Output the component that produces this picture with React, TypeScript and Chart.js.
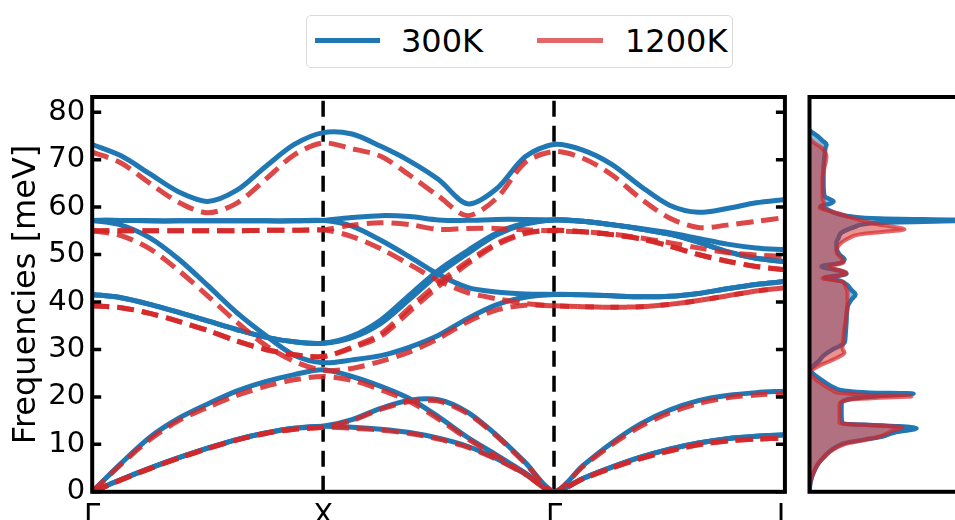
import React, { useEffect, useRef } from "react";
import { Chart, registerables } from "chart.js";

Chart.register(...registerables);
Chart.defaults.font.family = "'DejaVu Sans', sans-serif";

// ---- path & axes ----
const kPath = [0, 0.125, 0.25, 0.375, 0.5, 0.625, 0.75, 0.875, 1, 1.125, 1.25, 1.375, 1.5, 1.625, 1.75, 1.875, 2, 2.125, 2.25, 2.375, 2.5, 2.625, 2.75, 2.875, 3];
const kTickPos = [0, 1, 2, 3];
const kTickLabels = ["Γ", "X", "Γ", "L"];
const symLines = [1, 2];
const freqTicks = [0, 10, 20, 30, 40, 50, 60, 70, 80];
const freqMax = 83.2;

// ---- 300K bands (meV) ----
const ta300a = [0, 2.6, 5, 7.2, 9.2, 11, 12.4, 13.4, 13.8, 13.6, 13.2, 12.5, 11.3, 9.6, 7, 3.8, 0, 2.8, 5.2, 7.3, 9, 10.3, 11.2, 11.7, 12];
const ta300b = [0, 2.6, 5, 7.2, 9.2, 11, 12.4, 13.4, 13.8, 15.2, 17.6, 19.3, 19.4, 16.8, 12, 6.2, 0, 2.8, 5.2, 7.3, 9, 10.3, 11.2, 11.7, 12];
const la300 = [0, 6, 11.5, 15.5, 18.5, 21.2, 23.2, 24.7, 25.7, 24.3, 22.2, 19.6, 15.8, 11.5, 7.8, 4, 0, 5.5, 10.3, 14.3, 17.2, 19.2, 20.3, 20.9, 21.2];
const to300a = [41.6, 40.9, 39.5, 37.8, 36, 34.2, 32.6, 31.6, 31.3, 32.8, 36.2, 41.5, 46.7, 50.8, 54.5, 56.6, 57.3, 57, 56.3, 55.4, 54.3, 52.6, 50.6, 49.2, 48.5];
const to300b = [41.6, 40.9, 39.5, 37.8, 36, 34.2, 32.6, 31.6, 31.3, 32.5, 35.5, 40.6, 45.9, 50.2, 54.1, 56.4, 57.3, 57, 56.3, 55.4, 54.3, 52.6, 50.6, 49.2, 48.5];
const op300a = [57.2, 56.2, 53.5, 49, 43.5, 37.8, 33, 28.8, 27.2, 27.8, 28.7, 30.5, 33, 36.5, 39.4, 41, 41.6, 41.5, 41.3, 41.1, 41.2, 41.8, 42.8, 43.7, 44.3];
const op300b = [57.2, 57.2, 57.1, 57.1, 57.1, 57.1, 57.1, 57.1, 57.2, 56, 53, 49.5, 45.8, 43.1, 42.1, 41.7, 41.6, 41.5, 41.3, 41.1, 41.2, 41.8, 42.8, 43.7, 44.3];
const op300c = [57.2, 57.2, 57.1, 57.1, 57.1, 57.1, 57.1, 57.1, 57.2, 57.8, 58.2, 58, 57.3, 57.2, 57.4, 57.4, 57.3, 57, 56.3, 55.5, 54.6, 53.4, 52.2, 51.4, 51];
const top300 = [73.2, 70.8, 67, 63.2, 61.2, 63.5, 68.5, 73.2, 75.7, 75.4, 72.8, 69.7, 65.8, 60.7, 63.8, 70.6, 73.2, 72, 69, 64.4, 60.4, 58.9, 59.7, 60.9, 61.6];

// ---- 1200K bands (meV) ----
const ta1200a = [0, 2.5, 4.9, 7.1, 9.1, 10.9, 12.3, 13.2, 13.6, 13.4, 13, 12.3, 11.1, 9.4, 6.9, 3.7, 0, 2.7, 5, 7, 8.6, 9.9, 10.7, 11.1, 11.3];
const ta1200b = [0, 2.5, 4.9, 7.1, 9.1, 10.9, 12.3, 13.2, 13.6, 15, 17.4, 19, 19.1, 16.5, 11.8, 6, 0, 2.7, 5, 7, 8.6, 9.9, 10.7, 11.1, 11.3];
const la1200 = [0, 5.8, 11, 15, 17.8, 20.3, 22.2, 23.6, 24.3, 23.5, 21.5, 19, 15.3, 11.2, 7.5, 3.8, 0, 5.3, 9.9, 13.8, 16.6, 18.6, 19.8, 20.4, 20.7];
const to1200a = [39.2, 38.8, 37.6, 35.9, 34, 31.8, 30, 28.9, 28.5, 30.5, 33.3, 38.8, 44, 48.5, 52.3, 54.6, 55.1, 54.8, 54.2, 53.3, 51.8, 50, 48.6, 47.5, 46.8];
const to1200b = [39.2, 38.8, 37.6, 35.9, 34, 31.8, 30, 28.9, 28.5, 30.3, 32.8, 38, 43.3, 48, 52, 54.4, 55.1, 54.8, 54.2, 53.3, 51.8, 50, 48.6, 47.5, 46.8];
const op1200a = [55, 54, 51.2, 46.6, 41.3, 35.8, 30.9, 27.5, 25.6, 26, 27.5, 29.5, 32.3, 35.8, 38.3, 39.3, 39.2, 39, 38.9, 39, 39.5, 40.3, 41.3, 42.3, 43];
const op1200b = [55, 55, 55, 55, 55, 55, 55.1, 55.1, 55.2, 53.8, 51.2, 47.9, 44.5, 42, 40.7, 39.7, 39.2, 39, 38.9, 39, 39.5, 40.3, 41.3, 42.3, 43];
const op1200c = [55, 55, 55, 55, 55, 55, 55.1, 55.1, 55.2, 56.2, 56.7, 56.3, 55.3, 55.5, 55.5, 55.2, 55, 54.8, 54.3, 53.5, 52.5, 51.4, 50.4, 49.9, 49.6];
const top1200 = [71.6, 69.3, 65, 61, 58.8, 60.8, 65.8, 71, 73.5, 72.3, 70.7, 66.7, 62.3, 58.2, 61.8, 69.4, 71.7, 70.3, 66.8, 61.8, 57.7, 55.7, 56.2, 57, 57.8];

// ---- phonon DOS (arb. units) ----
const dosE300 = [0, 2, 4, 6, 7.5, 8.5, 9.5, 10.3, 11, 11.6, 12.5, 13.4, 13.8, 14.4, 16, 18.5, 19.0, 19.6, 20.3, 20.7, 20.9, 21.3, 21.9, 23, 24, 25, 25.7, 26.3, 26.8, 27.5, 28.5, 29.3, 30, 30.7, 31.4, 33, 36, 39, 40.5, 41.6, 42.5, 43.7, 44.5, 45.1, 45.6, 45.9, 46.6, 47.5, 48.2, 49, 50, 51.5, 52.5, 53.5, 54.6, 55.8, 56.7, 57.2, 57.6, 58.0, 58.8, 59.6, 60.2, 60.7, 61.2, 62.3, 65, 68, 70.7, 72.5, 73.2, 74, 75, 75.7, 76.2];
const dos300 = [0, 0.01, 0.04, 0.09, 0.15, 0.2, 0.27, 0.36, 0.55, 0.72, 0.85, 1.07, 0.9, 0.33, 0.32, 0.32, 0.33, 0.42, 0.75, 1.04, 0.6, 0.35, 0.25, 0.16, 0.09, 0.03, 0, 0.03, 0.05, 0.09, 0.13, 0.18, 0.23, 0.3, 0.35, 0.36, 0.37, 0.38, 0.42, 0.46, 0.42, 0.37, 0.3, 0.15, 0.3, 0.37, 0.3, 0.12, 0.3, 0.35, 0.3, 0.27, 0.27, 0.29, 0.32, 0.45, 0.7, 1.6, 0.7, 0.42, 0.25, 0.17, 0.11, 0.2, 0.24, 0.15, 0.14, 0.14, 0.15, 0.16, 0.17, 0.13, 0.08, 0.03, 0];
const dosE1200 = [0, 2, 4, 6, 7.5, 8.5, 9.5, 10.3, 11, 11.8, 12.8, 13.6, 13.9, 14.5, 16, 18.5, 19.0, 19.5, 19.8, 20.1, 20.4, 20.8, 21.5, 22.5, 23.5, 24.5, 25.1, 25.6, 26.0, 26.6, 27.4, 28.3, 29.3, 30.2, 33, 36, 39, 40.5, 42, 43.3, 44.3, 45.0, 45.5, 46.2, 47.0, 47.5, 48.3, 49, 50.5, 51.5, 52.5, 53.5, 54.2, 54.8, 55.3, 55.8, 56.5, 57.3, 58.0, 58.6, 59.2, 59.8, 60.5, 62, 66, 70.7, 72.5, 73.2, 74, 74.5];
const dos1200 = [0, 0.01, 0.04, 0.09, 0.16, 0.21, 0.29, 0.4, 0.58, 0.72, 0.82, 0.93, 0.75, 0.3, 0.3, 0.3, 0.33, 0.45, 0.7, 1.02, 0.6, 0.32, 0.22, 0.14, 0.07, 0.02, 0, 0.02, 0.05, 0.1, 0.19, 0.28, 0.35, 0.33, 0.34, 0.36, 0.38, 0.38, 0.38, 0.36, 0.33, 0.13, 0.3, 0.37, 0.25, 0.2, 0.34, 0.33, 0.27, 0.28, 0.32, 0.4, 0.49, 0.75, 0.95, 0.85, 0.65, 0.5, 0.38, 0.3, 0.2, 0.1, 0.15, 0.13, 0.13, 0.17, 0.12, 0.07, 0.02, 0];
const dosMax = 2.0;

const seriesNames = ["300K", "1200K"];
const BLUE = "#1f77b4";
const RED = "rgba(214,39,40,0.85)";
const RED_LEGEND = "rgba(214,39,40,0.7)";

const bands300 = [ta300a, ta300b, la300, to300a, to300b, op300a, op300b, op300c, top300];
const bands1200 = [ta1200a, ta1200b, la1200, to1200a, to1200b, op1200a, op1200b, op1200c, top1200];

const framePlugin = (ticks: boolean) => ({
  id: "frame" + (ticks ? "A" : "B"),
  afterDatasetsDraw(chart: any) {
    const { ctx, chartArea } = chart;
    ctx.save();
    ctx.strokeStyle = "#000";
    if (ticks) {
      const ys = chart.scales.y;
      ctx.lineWidth = 3.5;
      ctx.beginPath();
      freqTicks.forEach((v) => {
        const p = ys.getPixelForValue(v);
        ctx.moveTo(chartArea.left, p);
        ctx.lineTo(chartArea.left + 9, p);
        ctx.moveTo(chartArea.right, p);
        ctx.lineTo(chartArea.right - 9, p);
      });
      ctx.stroke();
    }
    ctx.lineWidth = 4;
    ctx.strokeRect(chartArea.left, chartArea.top, chartArea.right - chartArea.left, chartArea.bottom - chartArea.top);
    ctx.restore();
  },
});

export default function App() {
  const bandRef = useRef<HTMLCanvasElement>(null);
  const dosRef = useRef<HTMLCanvasElement>(null);

  useEffect(() => {
    const toPts = (arr: number[]) => kPath.map((x, i) => ({ x, y: arr[i] }));
    const redSets = bands1200.map((b) => ({
      data: toPts(b),
      borderColor: RED,
      borderWidth: 5,
      borderDash: [17, 8],
      pointRadius: 0,
      fill: false,
      tension: 0.3,
    }));
    const blueSets = bands300.map((b) => ({
      data: toPts(b),
      borderColor: BLUE,
      borderWidth: 5,
      pointRadius: 0,
      fill: false,
      tension: 0.3,
    }));
    const vSets = symLines.map((x) => ({
      data: [{ x, y: 0 }, { x, y: freqMax }],
      borderColor: "#000",
      borderWidth: 3.5,
      borderDash: [16, 9],
      pointRadius: 0,
      fill: false,
    }));

    const bandChart = new Chart(bandRef.current!, {
      type: "line",
      data: { datasets: [...redSets, ...blueSets, ...vSets] as any },
      options: {
        responsive: false,
        animation: false,
        events: [],
        layout: { padding: { top: 97, right: 12.8, bottom: 28.2, left: 0 } },
        plugins: { legend: { display: false }, tooltip: { enabled: false } },
        scales: {
          x: {
            type: "linear",
            min: 0,
            max: 3,
            grid: { display: false, drawTicks: false },
            border: { display: false },
            afterBuildTicks: (s: any) => {
              s.ticks = kTickPos.map((v) => ({ value: v }));
            },
            afterFit: (s: any) => {
              s.height = 40;
            },
            ticks: {
              autoSkip: false,
              maxRotation: 0,
              padding: 7,
              color: "#000",
              font: { size: 29 },
              callback: (_v: any, i: number) => kTickLabels[i],
            },
          },
          y: {
            type: "linear",
            min: 0,
            max: freqMax,
            grid: { display: false, drawTicks: false },
            border: { display: false },
            afterBuildTicks: (s: any) => {
              s.ticks = freqTicks.map((v) => ({ value: v }));
            },
            afterFit: (s: any) => {
              s.width = 92.2;
            },
            ticks: { padding: 7, color: "#000", font: { size: 29 } },
            title: {
              display: true,
              text: "Frequencies [meV]",
              color: "#000",
              font: { size: 32 },
              padding: { top: 7, bottom: 0 },
            },
          },
        },
      } as any,
      plugins: [framePlugin(true)],
    });

    const dosChart = new Chart(dosRef.current!, {
      type: "line",
      data: {
        datasets: [
          {
            label: seriesNames[1],
            data: dosE1200.map((e, i) => ({ x: dos1200[i], y: e })),
            borderColor: RED_LEGEND,
            borderWidth: 4,
            backgroundColor: "rgba(214,39,40,0.5)",
            fill: "origin",
            pointRadius: 0,
            cubicInterpolationMode: "monotone",
          },
          {
            label: seriesNames[0],
            data: dosE300.map((e, i) => ({ x: dos300[i], y: e })),
            borderColor: BLUE,
            borderWidth: 4.5,
            backgroundColor: "rgba(31,119,180,0.5)",
            fill: "origin",
            pointRadius: 0,
            cubicInterpolationMode: "monotone",
          },
        ] as any,
      },
      options: {
        indexAxis: "y",
        responsive: false,
        animation: false,
        events: [],
        layout: { padding: { top: 97, right: 40.5, bottom: 68.2, left: 19.5 } },
        plugins: { legend: { display: false }, tooltip: { enabled: false } },
        scales: {
          x: { type: "linear", min: 0, max: dosMax, display: false },
          y: { type: "linear", min: 0, max: freqMax, display: false },
        },
      } as any,
      plugins: [framePlugin(false)],
    });

    return () => {
      bandChart.destroy();
      dosChart.destroy();
    };
  }, []);

  const font = "'DejaVu Sans', sans-serif";
  return (
    <div style={{ position: "fixed", left: 0, top: 0, width: 955, height: 520, overflow: "hidden", background: "#fff" }}>
      <canvas ref={bandRef} width={800} height={560} style={{ position: "absolute", left: 0, top: 0, width: 800, height: 560 }} />
      <canvas ref={dosRef} width={260} height={560} style={{ position: "absolute", left: 790, top: 0, width: 260, height: 560 }} />
      <div
        style={{
          position: "absolute",
          left: 306,
          top: 15,
          width: 427,
          height: 53,
          boxSizing: "border-box",
          border: "1px solid #d9d9d9",
          borderRadius: 5,
          background: "#fff",
          fontFamily: font,
          fontSize: 32,
          lineHeight: "32px",
          color: "#000",
        }}
      >
        <div style={{ position: "absolute", left: 8, top: 21.5, width: 65, height: 5, background: BLUE }} />
        <div style={{ position: "absolute", left: 94, top: 8.5, whiteSpace: "nowrap" }}>{seriesNames[0]}</div>
        <div style={{ position: "absolute", left: 230, top: 21.5, width: 66, height: 5, background: RED_LEGEND }} />
        <div style={{ position: "absolute", left: 318, top: 8.5, whiteSpace: "nowrap" }}>{seriesNames[1]}</div>
      </div>
    </div>
  );
}
